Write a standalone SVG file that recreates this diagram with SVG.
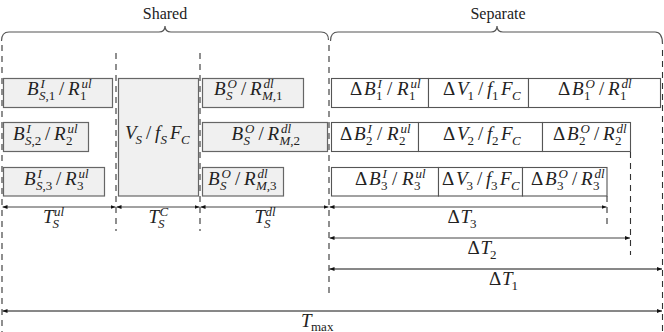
<svg xmlns="http://www.w3.org/2000/svg" width="664" height="332" viewBox="0 0 664 332">
<style>
.m{font-family:"Liberation Serif","Times New Roman",serif;font-style:italic;font-size:19px;fill:#222}
.s{font-size:13px}
.u{font-style:normal}
.t{font-family:"Liberation Serif","Times New Roman",serif;font-size:16px;fill:#222}
.sh{fill:#f0f0f0;stroke:#666;stroke-width:1.2}
.sp{fill:#fff;stroke:#555;stroke-width:1.1}
.dash{stroke:#333;stroke-width:1.1;stroke-dasharray:6 5;fill:none}
.br{fill:none;stroke:#555;stroke-width:1.2}
.dim{stroke:#444;stroke-width:1;marker-start:url(#ah);marker-end:url(#ah)}
.dk{stroke:#111}
</style>
<defs>
<marker id="ah" viewBox="0 0 5 4" refX="5" refY="2" markerWidth="5" markerHeight="4" markerUnits="userSpaceOnUse" orient="auto-start-reverse">
<path d="M0,0 L5,2 L0,4 z" fill="#111"/>
</marker>
</defs>

<g id="braces">
<path class="br" d="M1.5,41 Q1.5,32 9,32 L159,32 Q165,32 165,26 Q165,32 171,32 L321,32 Q328.5,32 328.5,40"/>
<text class="t" x="165" y="19" text-anchor="middle">Shared</text>
<path class="br" d="M330.5,41 Q330.5,32 338,32 L491,32 Q497,32 497,26 Q497,32 503,32 L655,32 Q662.5,32 662.5,44"/>
<text class="t" x="498" y="19" text-anchor="middle">Separate</text>
</g>

<g id="guides">
<line class="dash" x1="2" y1="45" x2="2" y2="332"/>
<line class="dash" x1="116" y1="53" x2="116" y2="231"/>
<line class="dash" x1="200" y1="53" x2="200" y2="231"/>
<line class="dash" x1="329" y1="45" x2="329" y2="298"/>
<line class="dash" x1="662.5" y1="50" x2="662.5" y2="332"/>
<line class="dash" x1="607" y1="196" x2="607" y2="226"/>
<line class="dash" x1="630.5" y1="152" x2="630.5" y2="255"/>
</g>

<g id="s-ul-1"><rect class="sh" x="3.5" y="78.5" width="109" height="29"/>
<text class="m" y="95"><tspan x="27">B</tspan><tspan class="s" x="40.5" y="88">I</tspan><tspan class="s" x="39" y="99.5">S<tspan class="u">,1</tspan></tspan><tspan class="u" x="59" y="95">/</tspan><tspan x="68" y="95">R</tspan><tspan class="s" x="81.5" y="88">ul</tspan><tspan class="s u" x="80" y="99.5">1</tspan></text></g>
<g id="s-ul-2"><rect class="sh" x="3.5" y="122.5" width="85" height="29"/>
<text class="m" y="140"><tspan x="13">B</tspan><tspan class="s" x="26.5" y="133">I</tspan><tspan class="s" x="25" y="144.5">S<tspan class="u">,2</tspan></tspan><tspan class="u" x="45" y="140">/</tspan><tspan x="54" y="140">R</tspan><tspan class="s" x="67.5" y="133">ul</tspan><tspan class="s u" x="66" y="144.5">2</tspan></text></g>
<g id="s-ul-3"><rect class="sh" x="3.5" y="167.5" width="101" height="28.5"/>
<text class="m" y="185"><tspan x="24">B</tspan><tspan class="s" x="37.5" y="178">I</tspan><tspan class="s" x="36" y="189.5">S<tspan class="u">,3</tspan></tspan><tspan class="u" x="56" y="185">/</tspan><tspan x="65" y="185">R</tspan><tspan class="s" x="78.5" y="178">ul</tspan><tspan class="s u" x="77" y="189.5">3</tspan></text></g>

<g id="s-comp"><rect class="sh" x="118.5" y="78.5" width="80" height="117.5"/>
<text class="m" y="139"><tspan x="125">V</tspan><tspan class="s" x="135.5" y="143.5">S</tspan><tspan class="u" x="146" y="139">/</tspan><tspan x="155" y="139">f</tspan><tspan class="s" x="160.5" y="143.5">S</tspan><tspan x="170" y="139">F</tspan><tspan class="s" x="181" y="143.5">C</tspan></text></g>

<g id="s-dl-1"><rect class="sh" x="202.5" y="78.5" width="101" height="29"/>
<text class="m" y="95"><tspan x="214">B</tspan><tspan class="s" x="227.5" y="88">O</tspan><tspan class="s" x="226" y="99.5">S</tspan><tspan class="u" x="241" y="95">/</tspan><tspan x="250" y="95">R</tspan><tspan class="s" x="263.5" y="88">dl</tspan><tspan class="s" x="262" y="99.5">M<tspan class="u">,1</tspan></tspan></text></g>
<g id="s-dl-2"><rect class="sh" x="202.5" y="122.5" width="125" height="29"/>
<text class="m" y="140"><tspan x="231.5">B</tspan><tspan class="s" x="245" y="133">O</tspan><tspan class="s" x="243.5" y="144.5">S</tspan><tspan class="u" x="258.5" y="140">/</tspan><tspan x="267.5" y="140">R</tspan><tspan class="s" x="281" y="133">dl</tspan><tspan class="s" x="279.5" y="144.5">M<tspan class="u">,2</tspan></tspan></text></g>
<g id="s-dl-3"><rect class="sh" x="202.5" y="167.5" width="81" height="28.5"/>
<text class="m" y="185"><tspan x="208">B</tspan><tspan class="s" x="221.5" y="178">O</tspan><tspan class="s" x="220" y="189.5">S</tspan><tspan class="u" x="235" y="185">/</tspan><tspan x="244" y="185">R</tspan><tspan class="s" x="257.5" y="178">dl</tspan><tspan class="s" x="256" y="189.5">M<tspan class="u">,3</tspan></tspan></text></g>

<g id="u-ul-1"><rect class="sp" x="331.5" y="78.5" width="97" height="29"/>
<text class="m" y="95"><tspan class="u" x="350">Δ</tspan><tspan x="364">B</tspan><tspan class="s" x="377.5" y="88">I</tspan><tspan class="s u" x="376" y="99.5">1</tspan><tspan class="u" x="387" y="95">/</tspan><tspan x="397" y="95">R</tspan><tspan class="s" x="410.5" y="88">ul</tspan><tspan class="s u" x="409" y="99.5">1</tspan></text></g>
<g id="u-comp-1"><rect class="sp" x="428.5" y="78.5" width="100" height="29"/>
<text class="m" y="95"><tspan class="u" x="443">Δ</tspan><tspan x="457">V</tspan><tspan class="s u" x="467.5" y="99.5">1</tspan><tspan class="u" x="478" y="95">/</tspan><tspan x="487" y="95">f</tspan><tspan class="s u" x="492" y="99.5">1</tspan><tspan x="501" y="95">F</tspan><tspan class="s" x="512" y="99.5">C</tspan></text></g>
<g id="u-dl-1"><rect class="sp" x="528.5" y="78.5" width="132" height="29"/>
<text class="m" y="95"><tspan class="u" x="558">Δ</tspan><tspan x="572">B</tspan><tspan class="s" x="585.5" y="88">O</tspan><tspan class="s u" x="584" y="99.5">1</tspan><tspan class="u" x="599" y="95">/</tspan><tspan x="608" y="95">R</tspan><tspan class="s" x="621.5" y="88">dl</tspan><tspan class="s u" x="620" y="99.5">1</tspan></text></g>

<g id="u-ul-2"><rect class="sp" x="331.5" y="122.5" width="87" height="29"/>
<text class="m" y="140"><tspan class="u" x="340">Δ</tspan><tspan x="354">B</tspan><tspan class="s" x="367.5" y="133">I</tspan><tspan class="s u" x="366" y="144.5">2</tspan><tspan class="u" x="377" y="140">/</tspan><tspan x="387" y="140">R</tspan><tspan class="s" x="400.5" y="133">ul</tspan><tspan class="s u" x="399" y="144.5">2</tspan></text></g>
<g id="u-comp-2"><rect class="sp" x="418.5" y="122.5" width="124" height="29"/>
<text class="m" y="140"><tspan class="u" x="443">Δ</tspan><tspan x="457">V</tspan><tspan class="s u" x="467.5" y="144.5">2</tspan><tspan class="u" x="478" y="140">/</tspan><tspan x="487" y="140">f</tspan><tspan class="s u" x="492" y="144.5">2</tspan><tspan x="501" y="140">F</tspan><tspan class="s" x="512" y="144.5">C</tspan></text></g>
<g id="u-dl-2"><rect class="sp" x="542.5" y="122.5" width="88" height="29"/>
<text class="m" y="140"><tspan class="u" x="553">Δ</tspan><tspan x="567">B</tspan><tspan class="s" x="580.5" y="133">O</tspan><tspan class="s u" x="579" y="144.5">2</tspan><tspan class="u" x="594" y="140">/</tspan><tspan x="603" y="140">R</tspan><tspan class="s" x="616.5" y="133">dl</tspan><tspan class="s u" x="615" y="144.5">2</tspan></text></g>

<g id="u-ul-3"><rect class="sp" x="331.5" y="167.5" width="107" height="28.5"/>
<text class="m" y="185"><tspan class="u" x="355">Δ</tspan><tspan x="369">B</tspan><tspan class="s" x="382.5" y="178">I</tspan><tspan class="s u" x="381" y="189.5">3</tspan><tspan class="u" x="392" y="185">/</tspan><tspan x="402" y="185">R</tspan><tspan class="s" x="415.5" y="178">ul</tspan><tspan class="s u" x="414" y="189.5">3</tspan></text></g>
<g id="u-comp-3"><rect class="sp" x="438.5" y="167.5" width="84" height="28.5"/>
<text class="m" y="185"><tspan class="u" x="442">Δ</tspan><tspan x="456">V</tspan><tspan class="s u" x="466.5" y="189.5">3</tspan><tspan class="u" x="477" y="185">/</tspan><tspan x="486" y="185">f</tspan><tspan class="s u" x="491" y="189.5">3</tspan><tspan x="500" y="185">F</tspan><tspan class="s" x="511" y="189.5">C</tspan></text></g>
<g id="u-dl-3"><rect class="sp" x="522.5" y="167.5" width="84.5" height="28.5"/>
<text class="m" y="185"><tspan class="u" x="531">Δ</tspan><tspan x="545">B</tspan><tspan class="s" x="558.5" y="178">O</tspan><tspan class="s u" x="557" y="189.5">3</tspan><tspan class="u" x="572" y="185">/</tspan><tspan x="581" y="185">R</tspan><tspan class="s" x="594.5" y="178">dl</tspan><tspan class="s u" x="593" y="189.5">3</tspan></text></g>

<g id="connectors">
<line class="dim" x1="2.5" y1="207" x2="115.5" y2="207"/>
<line class="dim" x1="116.5" y1="207" x2="199.5" y2="207"/>
<line class="dim" x1="200.5" y1="207" x2="328.5" y2="207"/>
<line class="dim" x1="329.5" y1="207" x2="606.5" y2="207"/>
<line class="dim" x1="329.5" y1="238" x2="630" y2="238"/>
<line class="dim dk" x1="329.5" y1="269" x2="662" y2="269"/>
<line class="dim dk" x1="2.5" y1="311" x2="662" y2="311"/>
</g>

<g id="dim-labels">
<text class="m" y="223"><tspan x="43">T</tspan><tspan class="s" x="54" y="216">ul</tspan><tspan class="s" x="52.5" y="227.5">S</tspan></text>
<text class="m" y="223"><tspan x="148.5">T</tspan><tspan class="s" x="159.5" y="216">C</tspan><tspan class="s" x="158" y="227.5">S</tspan></text>
<text class="m" y="223"><tspan x="254.5">T</tspan><tspan class="s" x="265.5" y="216">dl</tspan><tspan class="s" x="264" y="227.5">S</tspan></text>
<text class="m" y="223"><tspan class="u" x="447.5">Δ</tspan><tspan x="460.5">T</tspan><tspan class="s u" x="470" y="227.5">3</tspan></text>
<text class="m" y="254"><tspan class="u" x="467.5">Δ</tspan><tspan x="480.5">T</tspan><tspan class="s u" x="490" y="258.5">2</tspan></text>
<text class="m" y="285"><tspan class="u" x="489">Δ</tspan><tspan x="502">T</tspan><tspan class="s u" x="511.5" y="289.5">1</tspan></text>
<text class="m" y="327"><tspan x="301">T</tspan><tspan class="s u" x="311" y="330.5">max</tspan></text>
</g>
</svg>
